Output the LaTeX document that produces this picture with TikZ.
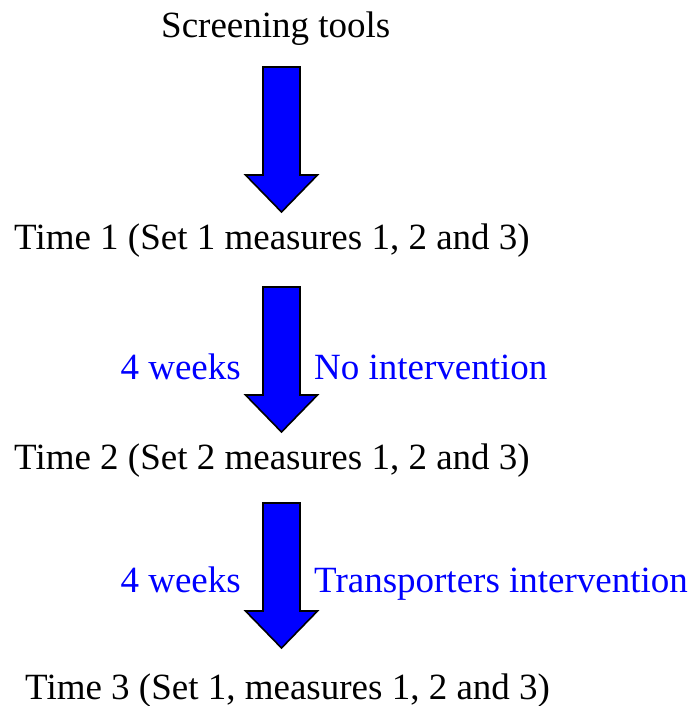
\documentclass[tikz,border=0pt]{standalone}
\usepackage{fontspec}
\setmainfont{Liberation Serif}
\begin{document}
\begin{tikzpicture}[x=1pt,y=-1pt,
  lbl/.style={anchor=base west,inner sep=0pt,font=\fontsize{37}{40}\selectfont},
  note/.style={lbl,text=blue},
  notel/.style={note,anchor=base east},
  barrow/.style={draw=black,fill=blue,line width=1.6pt,line join=miter},
  blockarrow/.pic={\draw[barrow] (-18.5,0) -- (18.5,0) -- (18.5,108) -- (36,108) -- (0,145) -- (-36,108) -- (-18.5,108) -- cycle;}]
\useasboundingbox (0,0) rectangle (695,706);
\node[lbl] (scr) at (161,38) {Screening tools};
\node[lbl] (t1) at (14,249) {Time 1 (Set 1 measures 1, 2 and 3)};
\node[lbl] (t2) at (14,469) {Time 2 (Set 2 measures 1, 2 and 3)};
\node[lbl] (t3) at (25,699) {Time 3 (Set 1, measures 1, 2 and 3)};
\node[notel] (w1) at (241,379) {4 weeks};
\node[note] (n1) at (314,379) {No intervention};
\node[notel] (w2) at (241,592) {4 weeks};
\node[note] (n2) at (314,592) {Transporters intervention};
\coordinate (a1) at (281.5,67);
\coordinate (a2) at (281.5,287);
\coordinate (a3) at (281.5,503);
\pic at (a1) {blockarrow};
\pic at (a2) {blockarrow};
\pic at (a3) {blockarrow};
\end{tikzpicture}
\end{document}
